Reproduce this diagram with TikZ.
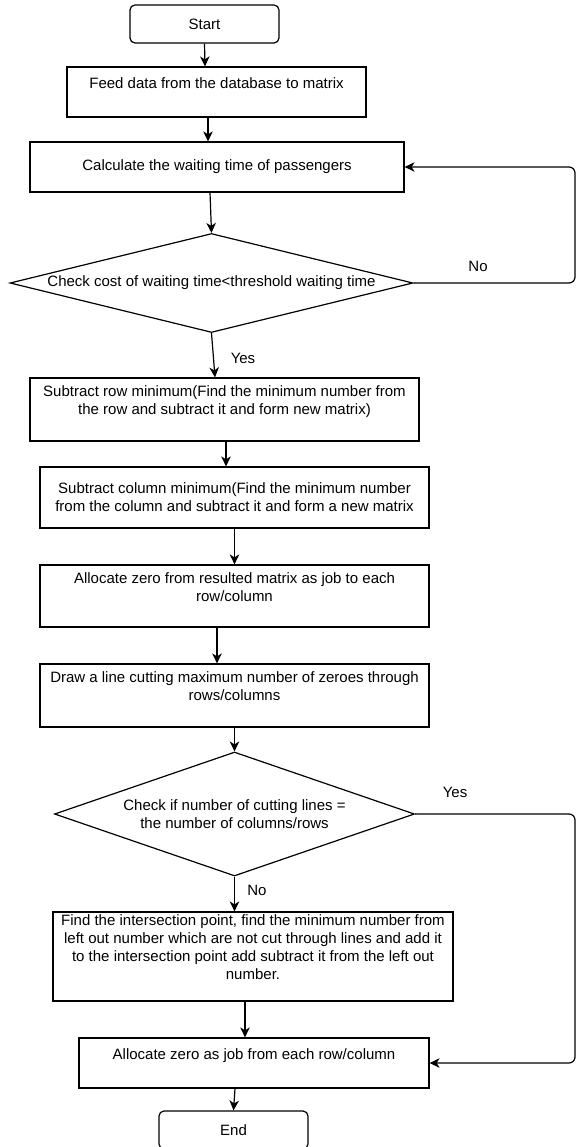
\documentclass[tikz,border=0pt]{standalone}
\usepackage{fontspec}
\setmainfont{Liberation Sans}
\usepackage{tikz}
\usetikzlibrary{arrows.meta}
\usetikzlibrary{shapes.geometric}
\tikzset{>={Stealth[length=10pt,width=9.5pt,inset=3pt]}}
\tikzset{box/.style={draw,rectangle,align=center,inner sep=0pt,line width=1.2pt}}
\tikzset{term/.style={box,rounded corners=5pt}}
\tikzset{decision/.style={draw,diamond,align=center,inner sep=0pt,line width=1.2pt}}
\tikzset{link/.style={->,line width=1.2pt}}

\begin{document}
\begin{tikzpicture}[x=1pt,y=-1pt,font=\fontsize{15}{18}\selectfont]
\useasboundingbox (0,0) rectangle (576,1147);
\node[term,minimum width=149,minimum height=38] (start) at (204.5,24) {Start};
\node[box,minimum width=299,minimum height=50] (feed) at (216.5,92) {Feed data from the database to matrix\\~};
\node[box,minimum width=374,minimum height=50] (calc) at (217,167) {Calculate the waiting time of passengers};
\node[decision,shape aspect=4.07,minimum width=403,minimum height=99] (check1) at (211.5,283) {Check cost of waiting time<threshold waiting time};
\node[box,minimum width=389,minimum height=63] (subrow) at (224.5,409.5) {Subtract row minimum(Find the minimum number from\\the row and subtract it and form new matrix)\\~};
\node[box,minimum width=389,minimum height=61] (subcol) at (234.5,497.5) {Subtract column minimum(Find the minimum number\\from the column and subtract it and form a new matrix};
\node[box,minimum width=389,minimum height=62] (alloc) at (234.5,596) {Allocate zero from resulted matrix as job to each\\row/column\\~};
\node[box,minimum width=389,minimum height=63] (cutlines) at (234.5,695.5) {Draw a line cutting maximum number of zeroes through\\rows/columns\\~};
\node[decision,shape aspect=2.9,minimum width=360,minimum height=124] (check2) at (234.5,814) {Check if number of cutting lines =\\the number of columns/rows};
\node[box,minimum width=400,minimum height=89] (adjust) at (253,956.5) {Find the intersection point, find the minimum number from\\left out number which are not cut through lines and add it\\to the intersection point add subtract it from the left out\\number.\\~};
\node[box,minimum width=350,minimum height=50] (assign) at (254,1063) {Allocate zero as job from each row/column\\~};
\node[term,minimum width=149,minimum height=38] (stop) at (233.5,1130) {End};
\coordinate (edge) at (575,0);
\draw[link] (start.south) -- ([xshift=-11.5pt]feed.north);
\draw[link] ([xshift=-8.5pt]feed.south) -- ([xshift=-9pt]calc.north);
\draw[link] ([xshift=-7pt]calc.south) -- (check1.north);
\draw[link] (check1.south) -- ([xshift=-9.5pt]subrow.north);
\draw[link] ([xshift=1.5pt]subrow.south) -- ([xshift=-8.5pt]subcol.north);
\draw[link] (subcol.south) -- (alloc.north);
\draw[link] ([xshift=-17.5pt]alloc.south) -- ([xshift=-17.5pt]cutlines.north);
\draw[link] (cutlines.south) -- (check2.north);
\draw[link] (check2.south) -- ([xshift=-18.5pt]adjust.north);
\draw[link] ([xshift=-8pt]adjust.south) -- ([xshift=-9pt]assign.north);
\draw[link] ([xshift=-19pt]assign.south) -- (stop.north);
% loops back on the right
\draw[link,rounded corners=6pt] (check1.east) -- (check1.east -| edge) -- (calc.east -| edge) -- (calc.east);
\draw[link,rounded corners=6pt] (check2.east) -- (check2.east -| edge) -- (assign.east -| edge) -- (assign.east);
\node (no1) at (478,266) {No};
\node (yes1) at (243,358) {Yes};
\node (yes2) at (455,792) {Yes};
\node (no2) at (257,890) {No};
\end{tikzpicture}
\end{document}
